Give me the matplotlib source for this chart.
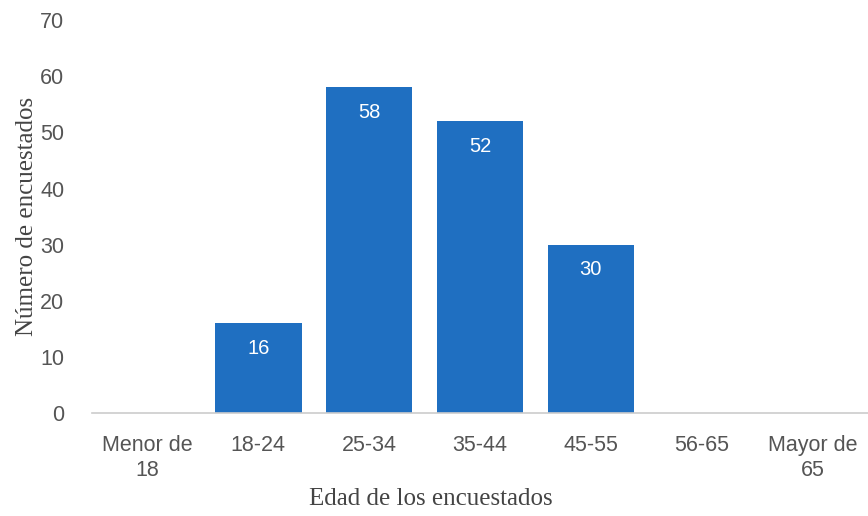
import matplotlib.pyplot as plt

categorias = ["Menor de\n18", "18-24", "25-34", "35-44", "45-55", "56-65", "Mayor de\n65"]
valores = [0, 16, 58, 52, 30, 0, 0]
yticks = [0, 10, 20, 30, 40, 50, 60, 70]

fig = plt.figure(figsize=(8.68, 5.16), dpi=100)
ax = fig.add_axes([0.106, 0.1996, 0.894, 0.7614])

x = list(range(len(categorias)))
bars = ax.bar(x, valores, width=0.78, color="#1f6fc1", zorder=2)

# etiquetas de valor dentro de las barras
for xi, v in zip(x, valores):
    if v > 0:
        ax.text(xi, v - 4.5, str(v), ha="center", va="center", color="white",
                fontsize=14.5, family="Liberation Sans")

ax.set_xlim(-0.5, len(categorias) - 0.5)
ax.set_ylim(0, 70)
ax.set_yticks(yticks)
ax.set_xticks(x)
ax.set_xticklabels(categorias, family="Liberation Sans", fontsize=15.5, color="#555555",
                   linespacing=1.25)
ax.set_yticklabels([str(t) for t in yticks], family="Liberation Sans", fontsize=15.5,
                   color="#555555")
ax.tick_params(axis="both", length=0)
ax.tick_params(axis="y", pad=20)
ax.tick_params(axis="x", pad=16)

for s in ["left", "right", "top"]:
    ax.spines[s].set_visible(False)
ax.spines["bottom"].set_color("#cccccc")
ax.spines["bottom"].set_linewidth(1.2)

ax.set_xlabel("Edad de los encuestados", family="Liberation Serif", fontsize=18,
              color="#444444")
ax.set_ylabel("Número de encuestados", family="Liberation Serif", fontsize=18,
              color="#444444")
ax.xaxis.set_label_coords(0.436, -0.19)
ax.yaxis.set_label_coords(-0.07, 0.5)

fig.savefig("out.png", dpi=100)
